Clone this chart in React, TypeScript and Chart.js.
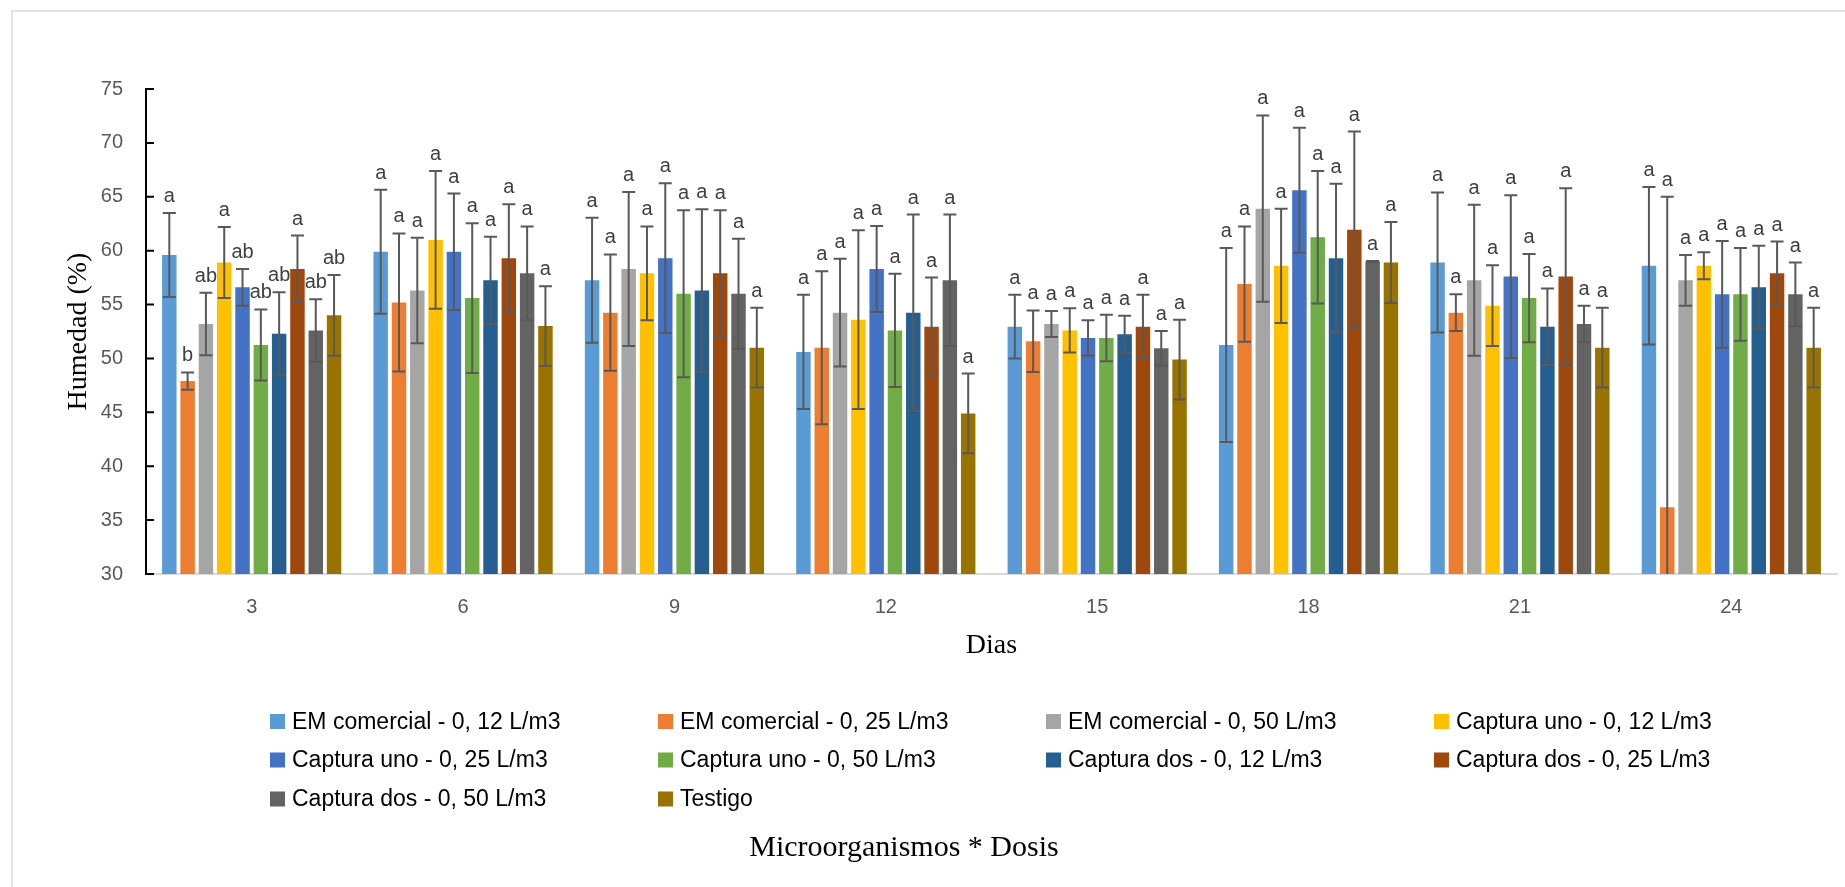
import React, { useEffect, useRef } from 'react';
import { Chart, registerables } from 'chart.js';

Chart.register(...registerables);

// ---------- DATA ----------
const days = ['3', '6', '9', '12', '15', '18', '21', '24'];
const yTicks = [30, 35, 40, 45, 50, 55, 60, 65, 70, 75];

const seriesNames = [
  'EM comercial - 0, 12 L/m3',
  'EM comercial - 0, 25 L/m3',
  'EM comercial - 0, 50 L/m3',
  'Captura uno - 0, 12 L/m3',
  'Captura uno - 0, 25 L/m3',
  'Captura uno - 0, 50 L/m3',
  'Captura dos - 0, 12 L/m3',
  'Captura dos - 0, 25 L/m3',
  'Captura dos - 0, 50 L/m3',
  'Testigo',
];

const seriesColors = [
  '#5B9BD5', '#ED7D31', '#A5A5A5', '#FFC000', '#4472C4',
  '#70AD47', '#255E91', '#9E480E', '#636363', '#997300',
];

// means per series (days 3..24)
const emComercial012 = [59.6, 59.9, 57.25, 50.6, 52.95, 51.25, 58.9, 58.6];
const emComercial025 = [47.9, 55.2, 54.25, 51.0, 51.6, 56.9, 54.25, 36.2];
const emComercial050 = [53.2, 56.3, 58.3, 54.25, 53.2, 63.9, 57.25, 57.25];
const capturaUno012 = [58.9, 61.0, 57.9, 53.6, 52.6, 58.6, 54.9, 58.6];
const capturaUno025 = [56.6, 59.9, 59.3, 58.3, 51.9, 65.6, 57.6, 55.95];
const capturaUno050 = [51.25, 55.6, 56.0, 52.6, 51.9, 61.25, 55.6, 55.95];
const capturaDos012 = [52.3, 57.25, 56.3, 54.25, 52.25, 59.3, 52.95, 56.6];
const capturaDos025 = [58.3, 59.3, 57.9, 52.95, 52.95, 61.95, 57.6, 57.9];
const capturaDos050 = [52.6, 57.9, 56.0, 57.25, 50.95, 59.0, 53.2, 55.95];
const testigo = [54.0, 53.0, 51.0, 44.9, 49.9, 58.9, 51.0, 51.0];

// error bar half-lengths
const emComercial012Err = [3.9, 5.75, 5.8, 5.3, 2.95, 9.0, 6.5, 7.3];
const emComercial025Err = [0.8, 6.4, 5.4, 7.1, 2.85, 5.35, 1.7, 28.8];
const emComercial050Err = [2.9, 4.9, 7.15, 5.0, 1.2, 8.65, 7.0, 2.35];
const capturaUno012Err = [3.3, 6.4, 4.35, 8.3, 2.05, 5.3, 3.75, 1.25];
const capturaUno025Err = [1.7, 5.4, 6.95, 4.0, 1.65, 5.8, 7.55, 4.95];
const capturaUno050Err = [3.3, 6.95, 7.75, 5.25, 2.15, 6.15, 4.1, 4.3];
const capturaDos012Err = [3.85, 4.05, 7.55, 9.1, 1.7, 6.9, 3.55, 3.85];
const capturaDos025Err = [3.1, 5.0, 5.85, 4.55, 2.95, 9.1, 8.2, 2.95];
const capturaDos050Err = [2.9, 4.35, 5.1, 6.1, 1.6, 0.05, 1.7, 2.95];
const testigoErr = [3.75, 3.7, 3.7, 3.7, 3.7, 3.75, 3.7, 3.7];

// significance letters
const emComercial012Let = ['a', 'a', 'a', 'a', 'a', 'a', 'a', 'a'];
const emComercial025Let = ['b', 'a', 'a', 'a', 'a', 'a', 'a', 'a'];
const emComercial050Let = ['ab', 'a', 'a', 'a', 'a', 'a', 'a', 'a'];
const capturaUno012Let = ['a', 'a', 'a', 'a', 'a', 'a', 'a', 'a'];
const capturaUno025Let = ['ab', 'a', 'a', 'a', 'a', 'a', 'a', 'a'];
const capturaUno050Let = ['ab', 'a', 'a', 'a', 'a', 'a', 'a', 'a'];
const capturaDos012Let = ['ab', 'a', 'a', 'a', 'a', 'a', 'a', 'a'];
const capturaDos025Let = ['a', 'a', 'a', 'a', 'a', 'a', 'a', 'a'];
const capturaDos050Let = ['ab', 'a', 'a', 'a', 'a', 'a', 'a', 'a'];
const testigoLet = ['ab', 'a', 'a', 'a', 'a', 'a', 'a', 'a'];

const seriesValues = [
  emComercial012, emComercial025, emComercial050, capturaUno012, capturaUno025,
  capturaUno050, capturaDos012, capturaDos025, capturaDos050, testigo,
];
const seriesErrors = [
  emComercial012Err, emComercial025Err, emComercial050Err, capturaUno012Err, capturaUno025Err,
  capturaUno050Err, capturaDos012Err, capturaDos025Err, capturaDos050Err, testigoErr,
];
const seriesLetters = [
  emComercial012Let, emComercial025Let, emComercial050Let, capturaUno012Let, capturaUno025Let,
  capturaUno050Let, capturaDos012Let, capturaDos025Let, capturaDos050Let, testigoLet,
];

const yTitle = 'Humedad (%)';
const xTitle = 'Dias';
const legendTitle = 'Microorganismos * Dosis';

// ---------- STYLE ----------
const W = 1845;
const H = 887;
const sansFont = '"Liberation Sans", Arial, sans-serif';
const serifFont = '"Liberation Serif", "Times New Roman", serif';

const overlayPlugin = {
  id: 'overlay',
  afterDatasetsDraw(chart: any) {
    const ctx = chart.ctx;
    const yScale = chart.scales.y;
    const area = chart.chartArea;
    ctx.save();
    chart.data.datasets.forEach((ds: any, di: number) => {
      const meta = chart.getDatasetMeta(di);
      meta.data.forEach((bar: any, i: number) => {
        const v = ds.data[i];
        const e = ds.errors[i];
        const x = bar.x;
        const yTop = yScale.getPixelForValue(v + e);
        const yBotRaw = yScale.getPixelForValue(v - e);
        const yBot = Math.min(yBotRaw, area.bottom);
        ctx.strokeStyle = '#595959';
        ctx.lineWidth = 2;
        ctx.beginPath();
        ctx.moveTo(x, yTop);
        ctx.lineTo(x, yBot);
        ctx.moveTo(x - 6.5, yTop);
        ctx.lineTo(x + 6.5, yTop);
        if (yBotRaw <= area.bottom) {
          ctx.moveTo(x - 6.5, yBot);
          ctx.lineTo(x + 6.5, yBot);
        }
        ctx.stroke();
        // letter
        ctx.fillStyle = '#404040';
        ctx.font = `20px ${sansFont}`;
        ctx.textAlign = 'center';
        ctx.textBaseline = 'alphabetic';
        ctx.fillText(ds.letters[i], x, yTop - 11);
      });
    });
    ctx.restore();
  },
  afterDraw(chart: any) {
    const ctx = chart.ctx;
    const yScale = chart.scales.y;
    const area = chart.chartArea;
    ctx.save();
    // outer chart border (left & top visible)
    ctx.strokeStyle = '#d9d9d9';
    ctx.lineWidth = 1.5;
    ctx.beginPath();
    ctx.moveTo(12, H + 5);
    ctx.lineTo(12, 11);
    ctx.lineTo(W + 5, 11);
    ctx.stroke();

    // inside tick marks on y axis
    ctx.strokeStyle = '#000000';
    ctx.lineWidth = 2;
    ctx.beginPath();
    yTicks.forEach((t) => {
      const y = yScale.getPixelForValue(t);
      ctx.moveTo(area.left, y);
      ctx.lineTo(area.left + 8, y);
    });
    ctx.stroke();

    // axis titles
    ctx.fillStyle = '#000000';
    ctx.font = `28px ${serifFont}`;
    ctx.textAlign = 'center';
    ctx.textBaseline = 'middle';
    ctx.fillText(xTitle, (area.left + area.right) / 2, 646);
    ctx.save();
    ctx.translate(79, (area.top + area.bottom) / 2);
    ctx.rotate(-Math.PI / 2);
    ctx.fillText(yTitle, 0, 0);
    ctx.restore();

    // legend grid
    const colX = [270, 658, 1046, 1434];
    const rowY = [721.5, 760, 799];
    ctx.font = `23px ${sansFont}`;
    ctx.textAlign = 'left';
    ctx.textBaseline = 'middle';
    chart.data.datasets.forEach((ds: any, i: number) => {
      const cx = colX[i % 4];
      const cy = rowY[Math.floor(i / 4)];
      ctx.fillStyle = ds.backgroundColor;
      ctx.fillRect(cx, cy - 7.5, 15, 15);
      ctx.fillStyle = '#000000';
      ctx.fillText(ds.label, cx + 22, cy + 1);
    });

    // legend title
    ctx.font = `30px ${serifFont}`;
    ctx.textAlign = 'center';
    ctx.fillText(legendTitle, 904, 848);
    ctx.restore();
  },
};

export default function App() {
  const canvasRef = useRef<HTMLCanvasElement | null>(null);

  useEffect(() => {
    if (!canvasRef.current) return;
    const chart = new Chart(canvasRef.current, {
      type: 'bar',
      data: {
        labels: days,
        datasets: seriesNames.map((name, i) => ({
          label: name,
          data: seriesValues[i],
          errors: seriesErrors[i],
          letters: seriesLetters[i],
          backgroundColor: seriesColors[i],
          borderWidth: 0,
          barPercentage: 0.79,
          categoryPercentage: 0.866,
        })) as any,
      },
      options: {
        responsive: false,
        animation: false,
        devicePixelRatio: 1,
        layout: { padding: { top: 89, left: 0, right: 8, bottom: 887 - 574 - 60 } },
        plugins: {
          legend: { display: false },
          title: { display: false },
          tooltip: { enabled: false },
        },
        scales: {
          x: {
            grid: { display: false, drawTicks: false },
            border: { display: true, color: '#d9d9d9', width: 2 },
            ticks: {
              color: '#595959',
              font: { size: 20, family: sansFont },
              padding: 21,
            },
            afterFit: (scale: any) => {
              scale.height = 60;
            },
          },
          y: {
            min: 30,
            max: 75,
            grid: { display: false, drawTicks: false },
            border: { display: true, color: '#000000', width: 2 },
            ticks: {
              stepSize: 5,
              color: '#595959',
              font: { size: 20, family: sansFont },
              padding: 23,
            },
            afterFit: (scale: any) => {
              scale.width = 146;
            },
          },
        },
      },
      plugins: [overlayPlugin],
    });
    return () => chart.destroy();
  }, []);

  return (
    <div style={{ position: 'fixed', left: 0, top: 0, width: W, height: H, background: '#ffffff' }}>
      <canvas ref={canvasRef} width={W} height={H} style={{ display: 'block' }} />
    </div>
  );
}
